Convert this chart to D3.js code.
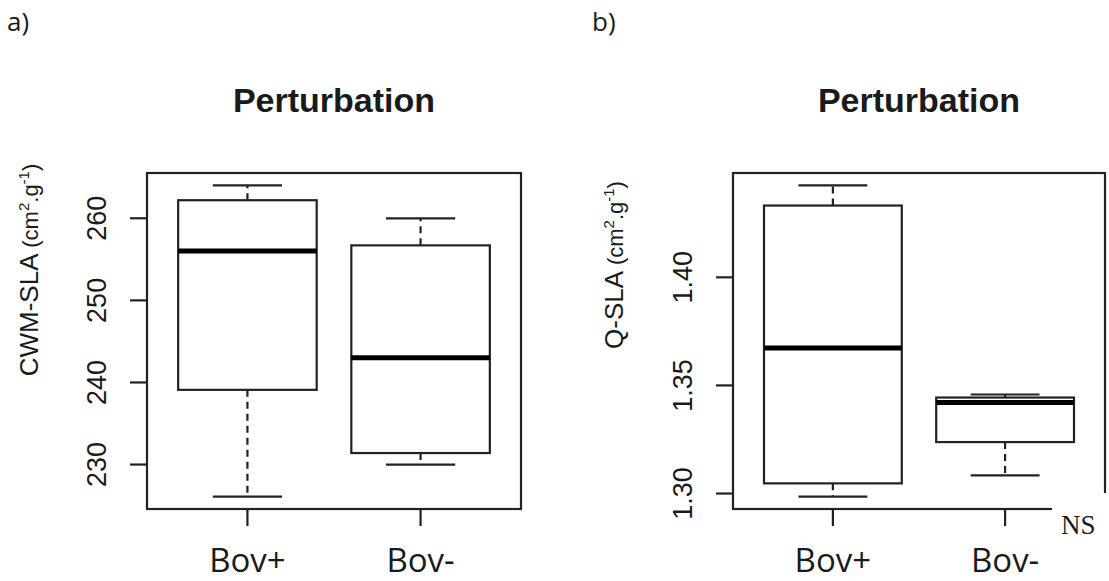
<!DOCTYPE html>
<html>
<head>
<meta charset="utf-8">
<script src="https://cdn.jsdelivr.net/npm/d3@7"></script>
<style>
  body { margin: 0; background: #fff; }
  svg { display: block; }
  text { fill: #1a1a1a; }
</style>
</head>
<body>
<div class="chart"></div>
<script>
var groups = ["Bov+", "Bov-"];

// panel a) CWM-SLA
var cwmMin = [226.1, 230.0],
    cwmQ1 = [239.1, 231.4],
    cwmMed = [256.0, 243.0],
    cwmQ3 = [262.2, 256.7],
    cwmMax = [264.0, 260.0],
    cwmTicks = [230, 240, 250, 260];

// panel b) Q-SLA
var qMin = [1.2986, 1.3084],
    qQ1 = [1.3047, 1.3238],
    qMed = [1.3673, 1.3421],
    qQ3 = [1.4332, 1.3444],
    qMax = [1.4425, 1.3458],
    qTicks = [1.30, 1.35, 1.40];

var width = 1109, height = 581;
var stroke = "#222";

var svg = d3.select(".chart").append("svg")
    .attr("width", width)
    .attr("height", height);

function panel(opt) {
    var top = 173, bottom = 509;
    var lo = d3.min(opt.min), hi = d3.max(opt.max), pad = (hi - lo) * 0.04;
    var y = d3.scaleLinear().domain([lo - pad, hi + pad]).range([bottom, top]);
    var x = d3.scaleLinear().domain([0.42, 2.58]).range([opt.left, opt.right]);

    var g = svg.append("g");

    var stats = groups.map(function(d, i) {
        return {name: d, pos: i + 1, min: opt.min[i], q1: opt.q1[i], med: opt.med[i], q3: opt.q3[i], max: opt.max[i]};
    });

    var box = g.selectAll(".box").data(stats).enter().append("g").attr("class", "box");

    // dashed whiskers
    box.append("line")
        .attr("x1", function(d) { return x(d.pos); })
        .attr("x2", function(d) { return x(d.pos); })
        .attr("y1", function(d) { return y(d.q3); })
        .attr("y2", function(d) { return y(d.max); })
        .attr("stroke", stroke).attr("stroke-width", 2.2).attr("stroke-dasharray", "7,5");
    box.append("line")
        .attr("x1", function(d) { return x(d.pos); })
        .attr("x2", function(d) { return x(d.pos); })
        .attr("y1", function(d) { return y(d.q1); })
        .attr("y2", function(d) { return y(d.min); })
        .attr("stroke", stroke).attr("stroke-width", 2.2).attr("stroke-dasharray", "7,5");

    // staples (half box width)
    ["min", "max"].forEach(function(k) {
        box.append("line")
            .attr("x1", function(d) { return x(d.pos - 0.2); })
            .attr("x2", function(d) { return x(d.pos + 0.2); })
            .attr("y1", function(d) { return y(d[k]); })
            .attr("y2", function(d) { return y(d[k]); })
            .attr("stroke", stroke).attr("stroke-width", 2.2);
    });

    box.append("rect")
        .attr("x", function(d) { return x(d.pos - 0.4); })
        .attr("width", function(d) { return x(d.pos + 0.4) - x(d.pos - 0.4); })
        .attr("y", function(d) { return y(d.q3); })
        .attr("height", function(d) { return y(d.q1) - y(d.q3); })
        .attr("fill", "#fff").attr("stroke", stroke).attr("stroke-width", 2.2);

    box.append("line")
        .attr("x1", function(d) { return x(d.pos - 0.4); })
        .attr("x2", function(d) { return x(d.pos + 0.4); })
        .attr("y1", function(d) { return y(d.med); })
        .attr("y2", function(d) { return y(d.med); })
        .attr("stroke", "#000").attr("stroke-width", 5);

    // frame
    g.append("rect")
        .attr("x", opt.left).attr("y", top)
        .attr("width", opt.right - opt.left).attr("height", bottom - top)
        .attr("fill", "none").attr("stroke", stroke).attr("stroke-width", 2.2);

    // y axis
    g.selectAll(".ytick").data(opt.ticks).enter().append("line")
        .attr("x1", opt.left - 17).attr("x2", opt.left)
        .attr("y1", function(d) { return y(d); })
        .attr("y2", function(d) { return y(d); })
        .attr("stroke", stroke).attr("stroke-width", 2.2);
    g.selectAll(".ylab").data(opt.ticks).enter().append("text")
        .attr("transform", function(d) { return "translate(" + (opt.left - 50) + "," + y(d) + ") rotate(-90)"; })
        .attr("text-anchor", "middle")
        .attr("dominant-baseline", "central")
        .style("font-family", "Liberation Sans, Arial, sans-serif")
        .style("font-size", "27px")
        .text(opt.fmt);

    // x axis
    g.selectAll(".xtick").data(stats).enter().append("line")
        .attr("x1", function(d) { return x(d.pos); })
        .attr("x2", function(d) { return x(d.pos); })
        .attr("y1", bottom).attr("y2", bottom + 17)
        .attr("stroke", stroke).attr("stroke-width", 2.2);
    g.selectAll(".xlab").data(stats).enter().append("text")
        .attr("x", function(d) { return x(d.pos); })
        .attr("y", 572)
        .attr("text-anchor", "middle")
        .style("font-family", "Open Sans, sans-serif")
        .style("font-size", "33px")
        .text(function(d) { return d.name; });

    // title
    g.append("text")
        .attr("x", (opt.left + opt.right) / 2)
        .attr("y", 112)
        .attr("text-anchor", "middle")
        .style("font-family", "Liberation Sans, Arial, sans-serif")
        .style("font-weight", "bold")
        .style("font-size", "34px")
        .text("Perturbation");

    // y label with units
    var lab = g.append("text")
        .attr("transform", "translate(" + opt.labX + "," + opt.labY + ") rotate(-90)")
        .attr("text-anchor", "middle")
        .style("font-family", "Liberation Sans, Arial, sans-serif")
        .style("font-size", "26px");
    lab.append("tspan").text(opt.label + "   ");
    lab.append("tspan").style("font-size", "22px").text("(cm");
    lab.append("tspan").style("font-size", "15px").attr("dy", -9).text("2");
    lab.append("tspan").style("font-size", "22px").attr("dy", 9).text(".g");
    lab.append("tspan").style("font-size", "15px").attr("dy", -9).text("-1");
    lab.append("tspan").style("font-size", "22px").attr("dy", 9).text(")");

    // panel letter
    svg.append("text")
        .attr("x", opt.letterX).attr("y", 31)
        .style("font-family", "Open Sans, sans-serif")
        .style("font-size", "26px")
        .text(opt.letter);
}

panel({left: 147, right: 521, min: cwmMin, q1: cwmQ1, med: cwmMed, q3: cwmQ3, max: cwmMax,
       ticks: cwmTicks, fmt: function(d) { return d; }, label: "CWM-SLA", labX: 38, labY: 270,
       letter: "a)", letterX: 7});
panel({left: 733, right: 1105, min: qMin, q1: qQ1, med: qMed, q3: qQ3, max: qMax,
       ticks: qTicks, fmt: function(d) { return d.toFixed(2); }, label: "Q-SLA", labX: 623, labY: 265,
       letter: "b)", letterX: 592});

// NS note on a white patch over the corner
svg.append("rect").attr("x", 1052).attr("y", 493).attr("width", 57).attr("height", 88).attr("fill", "#fff");
svg.append("text")
    .attr("x", 1061).attr("y", 534)
    .style("font-family", "Liberation Serif, Times New Roman, serif")
    .style("font-size", "27px")
    .text("NS");
</script>
</body>
</html>
